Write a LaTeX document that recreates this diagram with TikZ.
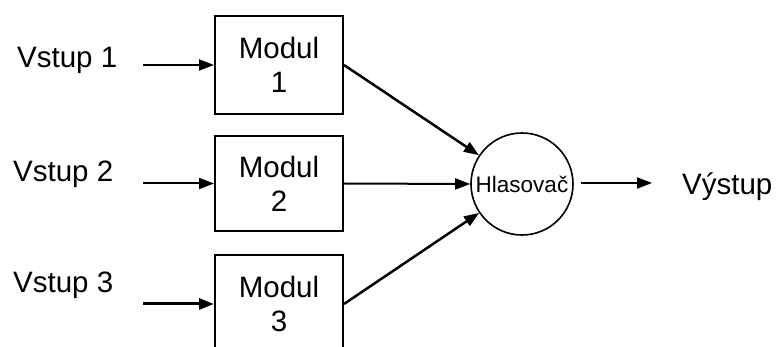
\documentclass[tikz,border=0pt]{standalone}
\usepackage{fontspec}
\setmainfont{Liberation Sans}
\usetikzlibrary{arrows.meta}
\begin{document}
\begin{tikzpicture}[x=1pt,y=-1pt,
  modbox/.style={draw,line width=2pt,minimum width=128pt,minimum height=98pt,align=center,inner sep=0pt,
    font=\fontsize{29.5}{34}\selectfont},
  lbl/.style={font=\fontsize{29.5}{34}\selectfont,inner sep=0pt,anchor=base west},
  conn/.style={line width=2pt,-{Triangle[length=15pt,width=11pt]}},
  thick conn/.style={line width=3pt,-{Triangle[length=15pt,width=11pt]}},
  voter/.style={draw,circle,line width=1.6pt,minimum size=102pt,inner sep=0pt,font=\fontsize{22.5}{24}\selectfont}]
\useasboundingbox (0,0) rectangle (777,347);
\fill[white] (0,0) rectangle (777,347);
% inputs
\node[lbl] (v1) at (17,68) {Vstup 1};
\node[lbl] (v2) at (13,182) {Vstup 2};
\node[lbl] (v3) at (13,293) {Vstup 3};
\coordinate (s1) at (143,65);
\coordinate (s2) at (143,183.5);
\coordinate (s3) at (143,304);
% modules
\node[modbox] (m1) at (279,65) {Modul\\1};
\node[modbox,minimum height=95pt] (m2) at (279,183.5) {Modul\\2};
\node[modbox] (m3) at (279,304) {Modul\\3};
% voter
\node[voter] (h) at (522,184) {Hlasovač};
\coordinate (o) at (652,183);
\node[lbl] (out) at (682,195) {Výstup};
% connectors
\draw[conn] (s1) -- (m1.west);
\draw[conn] (s2) -- (m2.west);
\draw[thick conn] (s3) -- (m3.west);
\draw[conn,line width=2.5pt] (m1.east) -- (h);
\draw[conn] (m2.east) -- (h.west);
\draw[conn,line width=2.5pt] (m3.east) -- (h);
\draw[conn] (h.east) ++(7,-1) coordinate (hs) (hs) -- (o);
\end{tikzpicture}
\end{document}
